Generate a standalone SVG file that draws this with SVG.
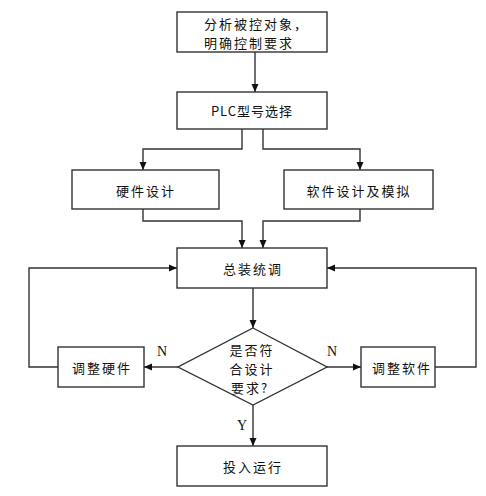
<svg xmlns="http://www.w3.org/2000/svg" width="486" height="496" viewBox="0 0 486 496">
<style>
.box{fill:#fff;stroke:#333;stroke-width:1.4}
.ln{fill:none;stroke:#333;stroke-width:1.4}
.t{font-family:"Noto Sans CJK SC","Noto Sans",sans-serif;font-size:13px;fill:#111;text-anchor:middle;dominant-baseline:central;letter-spacing:2px}
.l{font-family:"Liberation Serif",serif;font-size:14px;fill:#111;text-anchor:middle;dominant-baseline:central}
</style>
<defs>
<marker id="ar" markerWidth="8" markerHeight="8" refX="8" refY="4" orient="auto" markerUnits="userSpaceOnUse">
<path d="M0,0.5 L8,4 L0,7.5 Z" fill="#111"/>
</marker>
</defs>
<rect width="486" height="496" fill="#fff"/>
<g id="connectors">
<path class="ln" d="M255,52 V92" marker-end="url(#ar)"/>
<path class="ln" d="M242,129 V149 H143 V170" marker-end="url(#ar)"/>
<path class="ln" d="M263,129 V149 H360 V170" marker-end="url(#ar)"/>
<path class="ln" d="M143,209 V221 H242 V248" marker-end="url(#ar)"/>
<path class="ln" d="M360,209 V221 H263 V248" marker-end="url(#ar)"/>
<path class="ln" d="M253,288 V328" marker-end="url(#ar)"/>
<path class="ln" d="M178,367 H144" marker-end="url(#ar)"/>
<path class="ln" d="M327,367 H361" marker-end="url(#ar)"/>
<path class="ln" d="M58,367 H29 V268 H177" marker-end="url(#ar)"/>
<path class="ln" d="M435,367 H476 V268 H327" marker-end="url(#ar)"/>
<path class="ln" d="M253,405 V446" marker-end="url(#ar)"/>
<text class="l" x="162" y="351">N</text>
<text class="l" x="332" y="351">N</text>
<text class="l" x="242" y="425">Y</text>
</g>
<g id="n1">
<rect class="box" x="177" y="12" width="150" height="40"/>
<text class="t" style="text-anchor:start"><tspan x="204" y="22.5">分析被控对象，</tspan><tspan x="204" y="41.5">明确控制要求</tspan></text>
</g>
<g id="n2">
<rect class="box" x="177" y="92" width="150" height="37"/>
<text class="t" x="252" y="110" style="letter-spacing:1px">PLC型号选择</text>
</g>
<g id="n3">
<rect class="box" x="72" y="170" width="147" height="39"/>
<text class="t" x="146" y="190">硬件设计</text>
</g>
<g id="n4">
<rect class="box" x="284" y="170" width="149" height="39"/>
<text class="t" x="359" y="190">软件设计及模拟</text>
</g>
<g id="n5">
<rect class="box" x="177" y="248" width="150" height="40"/>
<text class="t" x="253" y="268">总装统调</text>
</g>
<g id="n6">
<path class="box" d="M253,328 L327,367 L253,405 L178,367 Z"/>
<text class="t"><tspan x="252" y="349">是否符</tspan><tspan x="252" y="368">合设计</tspan><tspan x="250" y="387">要求?</tspan></text>
</g>
<g id="n7">
<rect class="box" x="58" y="347" width="86" height="40"/>
<text class="t" x="102" y="367">调整硬件</text>
</g>
<g id="n8">
<rect class="box" x="361" y="347" width="74" height="40"/>
<text class="t" x="402" y="367">调整软件</text>
</g>
<g id="n9">
<rect class="box" x="177" y="446" width="150" height="40"/>
<text class="t" x="253" y="466">投入运行</text>
</g>
</svg>
